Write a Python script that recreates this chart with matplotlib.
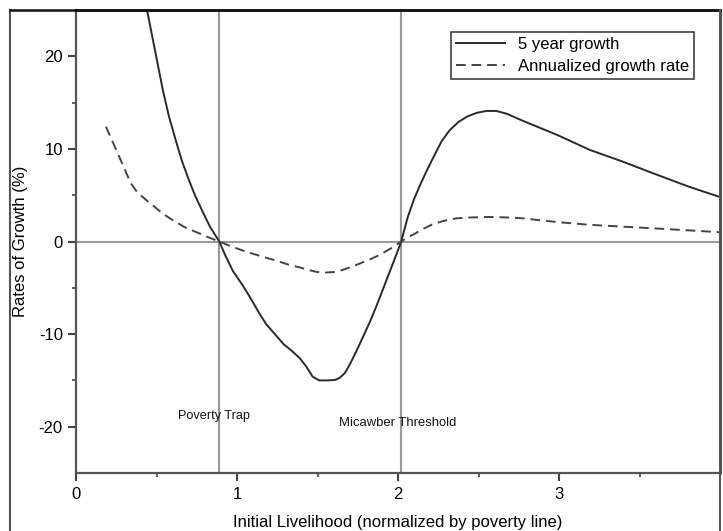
import numpy as np
import matplotlib
matplotlib.use("Agg")
import matplotlib.pyplot as plt
from matplotlib.lines import Line2D

plt.rcParams['font.family'] = ['Liberation Sans', 'DejaVu Sans']
plt.rcParams['axes.unicode_minus'] = False

# ---- data ----
x_growth5 = [0.44, 0.507, 0.54, 0.576, 0.62, 0.658, 0.70, 0.741, 0.79, 0.832, 0.89,
             0.93, 0.975, 1.03, 1.08, 1.13, 1.18, 1.235, 1.29, 1.34, 1.39, 1.43, 1.47,
             1.51, 1.56, 1.61, 1.64, 1.67, 1.70, 1.74, 1.78, 1.83, 1.87, 1.91, 1.95,
             1.99, 2.02, 2.06, 2.10, 2.14, 2.18, 2.22, 2.27, 2.32, 2.375, 2.43, 2.49,
             2.55, 2.61, 2.675, 2.78, 2.99, 3.19, 3.40, 3.61, 3.81, 4.00]
y_growth5 = [25.1, 19.2, 16.3, 13.6, 10.9, 8.7, 6.7, 4.9, 3.1, 1.6, 0.0,
             -1.6, -3.2, -4.6, -6.0, -7.5, -8.9, -10.0, -11.1, -11.8, -12.6, -13.5, -14.6,
             -15.0, -15.0, -14.95, -14.7, -14.2, -13.3, -11.9, -10.4, -8.5, -6.8, -5.0, -3.2,
             -1.4, 0.0, 2.6, 4.6, 6.2, 7.7, 9.1, 10.8, 12.0, 12.9, 13.5, 13.9,
             14.1, 14.1, 13.8, 13.0, 11.5, 9.9, 8.6, 7.2, 5.9, 4.8]

x_annual = [0.186, 0.27, 0.34, 0.383, 0.435, 0.54, 0.61, 0.68, 0.756, 0.83, 0.89,
            0.96, 1.04, 1.15, 1.25, 1.32, 1.39, 1.45, 1.50, 1.55, 1.60, 1.65, 1.70,
            1.76, 1.83, 1.88, 1.93, 1.98, 2.02, 2.06, 2.10, 2.16, 2.22, 2.29, 2.36,
            2.46, 2.57, 2.67, 2.78, 2.88, 2.99, 3.19, 3.40, 3.61, 3.81, 4.00]
y_annual = [12.4, 9.1, 6.3, 5.25, 4.5, 3.0, 2.2, 1.5, 0.95, 0.4, 0.0,
            -0.5, -1.0, -1.6, -2.1, -2.5, -2.8, -3.1, -3.3, -3.35, -3.3, -3.1, -2.8,
            -2.4, -1.9, -1.5, -1.0, -0.5, 0.0, 0.45, 0.8, 1.4, 1.9, 2.25, 2.5,
            2.6, 2.65, 2.6, 2.5, 2.3, 2.1, 1.8, 1.6, 1.4, 1.2, 1.0]

poverty_trap_x = 0.89
micawber_x = 2.02
series_labels = ["5 year growth", "Annualized growth rate"]
x_ticks = [0, 1, 2, 3]
y_ticks = [-20, -10, 0, 10, 20]

# ---- figure ----
W, H = 723, 531
fig = plt.figure(figsize=(W / 100, H / 100), dpi=100)
ax = fig.add_axes([76 / W, (H - 473) / H, (720 - 76) / W, (473 - 10) / H])

ax.set_xlim(0, 4)
ax.set_ylim(-25, 25)

# reference lines
ax.axhline(0, color='#999999', lw=1.5, zorder=1)
ax.axvline(poverty_trap_x, color='#999999', lw=1.5, zorder=1)
ax.axvline(micawber_x, color='#999999', lw=1.5, zorder=1)

ax.plot(x_growth5, y_growth5, color='#2a2a2a', lw=1.4, label=series_labels[0], zorder=3)
ax.plot(x_annual, y_annual, color='#444444', lw=1.4, ls=(0, (5, 3)),
        label=series_labels[1], zorder=3)

ax.text(0.86, -18.8, "Poverty Trap", fontsize=9.2, ha='center', va='center', color='#111111')
ax.text(2.0, -19.6, "Micawber Threshold", fontsize=9.4, ha='center', va='center', color='#111111')

ax.set_xticks(x_ticks)
ax.set_xticks([0.5, 1.5, 2.5, 3.5], minor=True)
ax.set_yticks(y_ticks)
ax.set_yticks([-15, -5, 5, 15], minor=True)
ax.tick_params(which='major', direction='out', length=6, width=1.5, color='#444444',
               labelsize=12)
ax.tick_params(axis='x', which='major', pad=4)
ax.tick_params(axis='y', which='major', pad=3.5)
ax.tick_params(which='minor', direction='out', length=3, width=1.2, color='#444444')

ax.set_xlabel("Initial Livelihood (normalized by poverty line)", fontsize=12, labelpad=9.5)
ax.set_ylabel("Rates of Growth (%)", fontsize=12, va='center')
ax.yaxis.set_label_coords((21 - 76) / (720 - 76), 0.5)

for s in ['left', 'bottom']:
    ax.spines[s].set_color('#555555')
    ax.spines[s].set_linewidth(1.6)
for s in ['top', 'right']:
    ax.spines[s].set_color('#111111')
    ax.spines[s].set_linewidth(1.8)

leg = ax.legend(loc='upper right', bbox_to_anchor=(0.96, 0.952), borderaxespad=0,
                fontsize=12, frameon=True, fancybox=False, handlelength=2.9,
                handletextpad=0.8, labelspacing=0.38, borderpad=0.3)
leg.get_frame().set_edgecolor('#111111')
leg.get_frame().set_linewidth(1.2)

# outer frame of the figure
fx0, fx1, fy1 = 10 / W, 720 / W, (H - 10) / H
fig.add_artist(Line2D([fx0, fx0], [0, fy1], color='#555555', lw=1.5, transform=fig.transFigure))
fig.add_artist(Line2D([fx0, fx1], [fy1, fy1], color='#111111', lw=1.8, transform=fig.transFigure))
fig.add_artist(Line2D([fx1, fx1], [0, fy1], color='#555555', lw=1.5, transform=fig.transFigure))

fig.savefig("out.png", dpi=100)
